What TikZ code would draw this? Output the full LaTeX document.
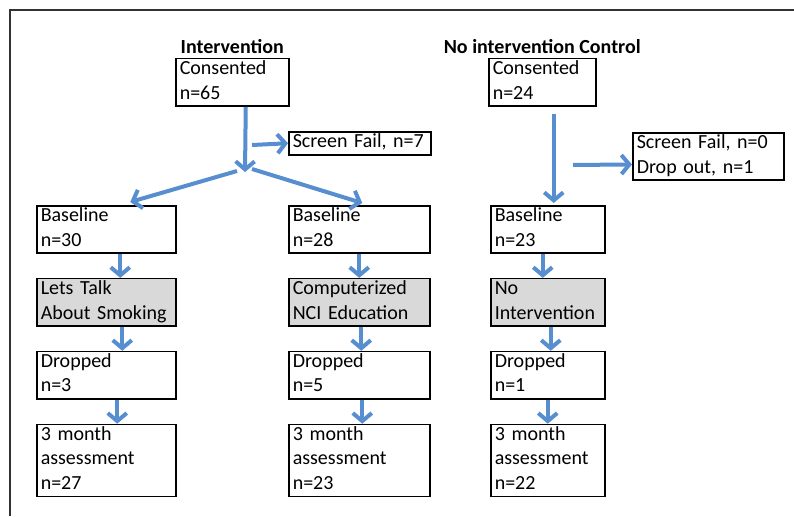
\documentclass[tikz,border=0pt]{standalone}
\usepackage{fontspec}
\setmainfont{Carlito}
\usetikzlibrary{positioning,arrows.meta}
\definecolor{arw}{RGB}{86,142,208}
\definecolor{frm}{RGB}{50,50,50}

\begin{document}
\begin{tikzpicture}[x=1pt,y=-1pt,font=\fontsize{20}{24.4}\selectfont,
  >={Straight Barb[length=8pt,width=19pt]},node distance=24pt,
  box/.style={draw,line width=1.5pt,inner xsep=4pt,inner ysep=0.5pt,align=left,anchor=north west,
    execute at begin node=\rule{0pt}{15.5pt},execute at end node=\rule[-6.5pt]{0pt}{6.5pt}},
  act/.style={box,fill=black!15},
  ttl/.style={font=\fontsize{20}{24.4}\selectfont\bfseries,inner sep=1pt},
  arr/.style={draw=arw,line width=4pt,->}]
  \useasboundingbox (0,0) rectangle (794,516);
  \draw[frm,line width=2pt] (10,516) -- (10,10) -- (794,10);
  % intervention arm
  \node[box,text width=105pt] (c1) at (175,58) {Consented\\n=65};
  \node[ttl,above=3pt of c1] (t1) {Intervention};
  \node[box,text width=134pt] (sf1) at (288,131) {Screen Fail, n=7};
  \coordinate (br) at (245,172);
  \coordinate (s1) at (252,145);
  \node[box,text width=131pt] (bl1) at (36,205) {Baseline\\n=30};
  \node[act,text width=131pt,below=of bl1] (tk1) {Lets Talk\\About Smoking};
  \node[box,text width=131pt,below=of tk1] (dr1) {Dropped\\n=3};
  \node[box,text width=131pt,below=of dr1] (m1) {3 month\\assessment\\n=27};
  \node[box,text width=133pt] (bl2) at (288,205) {Baseline\\n=28};
  \node[act,text width=133pt,below=of bl2] (tk2) {Computerized\\NCI Education};
  \node[box,text width=133pt,below=of tk2] (dr2) {Dropped\\n=5};
  \node[box,text width=133pt,below=of dr2] (m2) {3 month\\assessment\\n=23};
  % control arm
  \node[box,text width=99pt] (c2) at (488,58) {Consented\\n=24};
  \node[ttl,above=3pt of c2] (t2) {No intervention Control};
  \node[box,text width=143pt] (sf2) at (632,132) {Screen Fail, n=0\\Drop out, n=1};
  \coordinate (s2) at (573,165);
  \node[box,text width=106pt] (bl3) at (490,205) {Baseline\\n=23};
  \node[act,text width=106pt,below=of bl3] (tk3) {No\\Intervention};
  \node[box,text width=106pt,below=of tk3] (dr3) {Dropped\\n=1};
  \node[box,text width=106pt,below=of dr3] (m3) {3 month\\assessment\\n=22};
  % arrows
  \draw[arr] ([xshift=13.5pt]c1.south) -- (br);
  \draw[arr] (s1) -- (sf1.west);
  \draw[arr] ([xshift=-8pt,yshift=1pt]br) -- ([xshift=24pt,yshift=3pt]bl1.north);
  \draw[arr] ([xshift=7pt,yshift=3pt]br) -- ([xshift=3pt,yshift=2pt]bl2.north);
  \draw[arr] ([xshift=14pt]bl1.south) -- ([xshift=14pt]tk1.north);
  \draw[arr] ([xshift=16pt]tk1.south) -- ([xshift=16pt]dr1.north);
  \draw[arr] ([xshift=11pt]dr1.south) -- ([xshift=11pt]m1.north);
  \draw[arr] ([xshift=0pt]bl2.south) -- ([xshift=0pt]tk2.north);
  \draw[arr] ([xshift=2pt]tk2.south) -- ([xshift=2pt]dr2.north);
  \draw[arr] ([xshift=3pt]dr2.south) -- ([xshift=3pt]m2.north);
  \draw[arr] ([xshift=11.5pt,yshift=-7pt]c2.south) -- ([xshift=6pt,yshift=2pt]bl3.north);
  \draw[arr] (s2) -- ([yshift=-8pt]sf2.west);
  \draw[arr] ([xshift=-5pt]bl3.south) -- ([xshift=-5pt]tk3.north);
  \draw[arr] ([xshift=3pt]tk3.south) -- ([xshift=3pt]dr3.north);
  \draw[arr] ([xshift=0pt]dr3.south) -- ([xshift=0pt]m3.north);
\end{tikzpicture}
\end{document}
